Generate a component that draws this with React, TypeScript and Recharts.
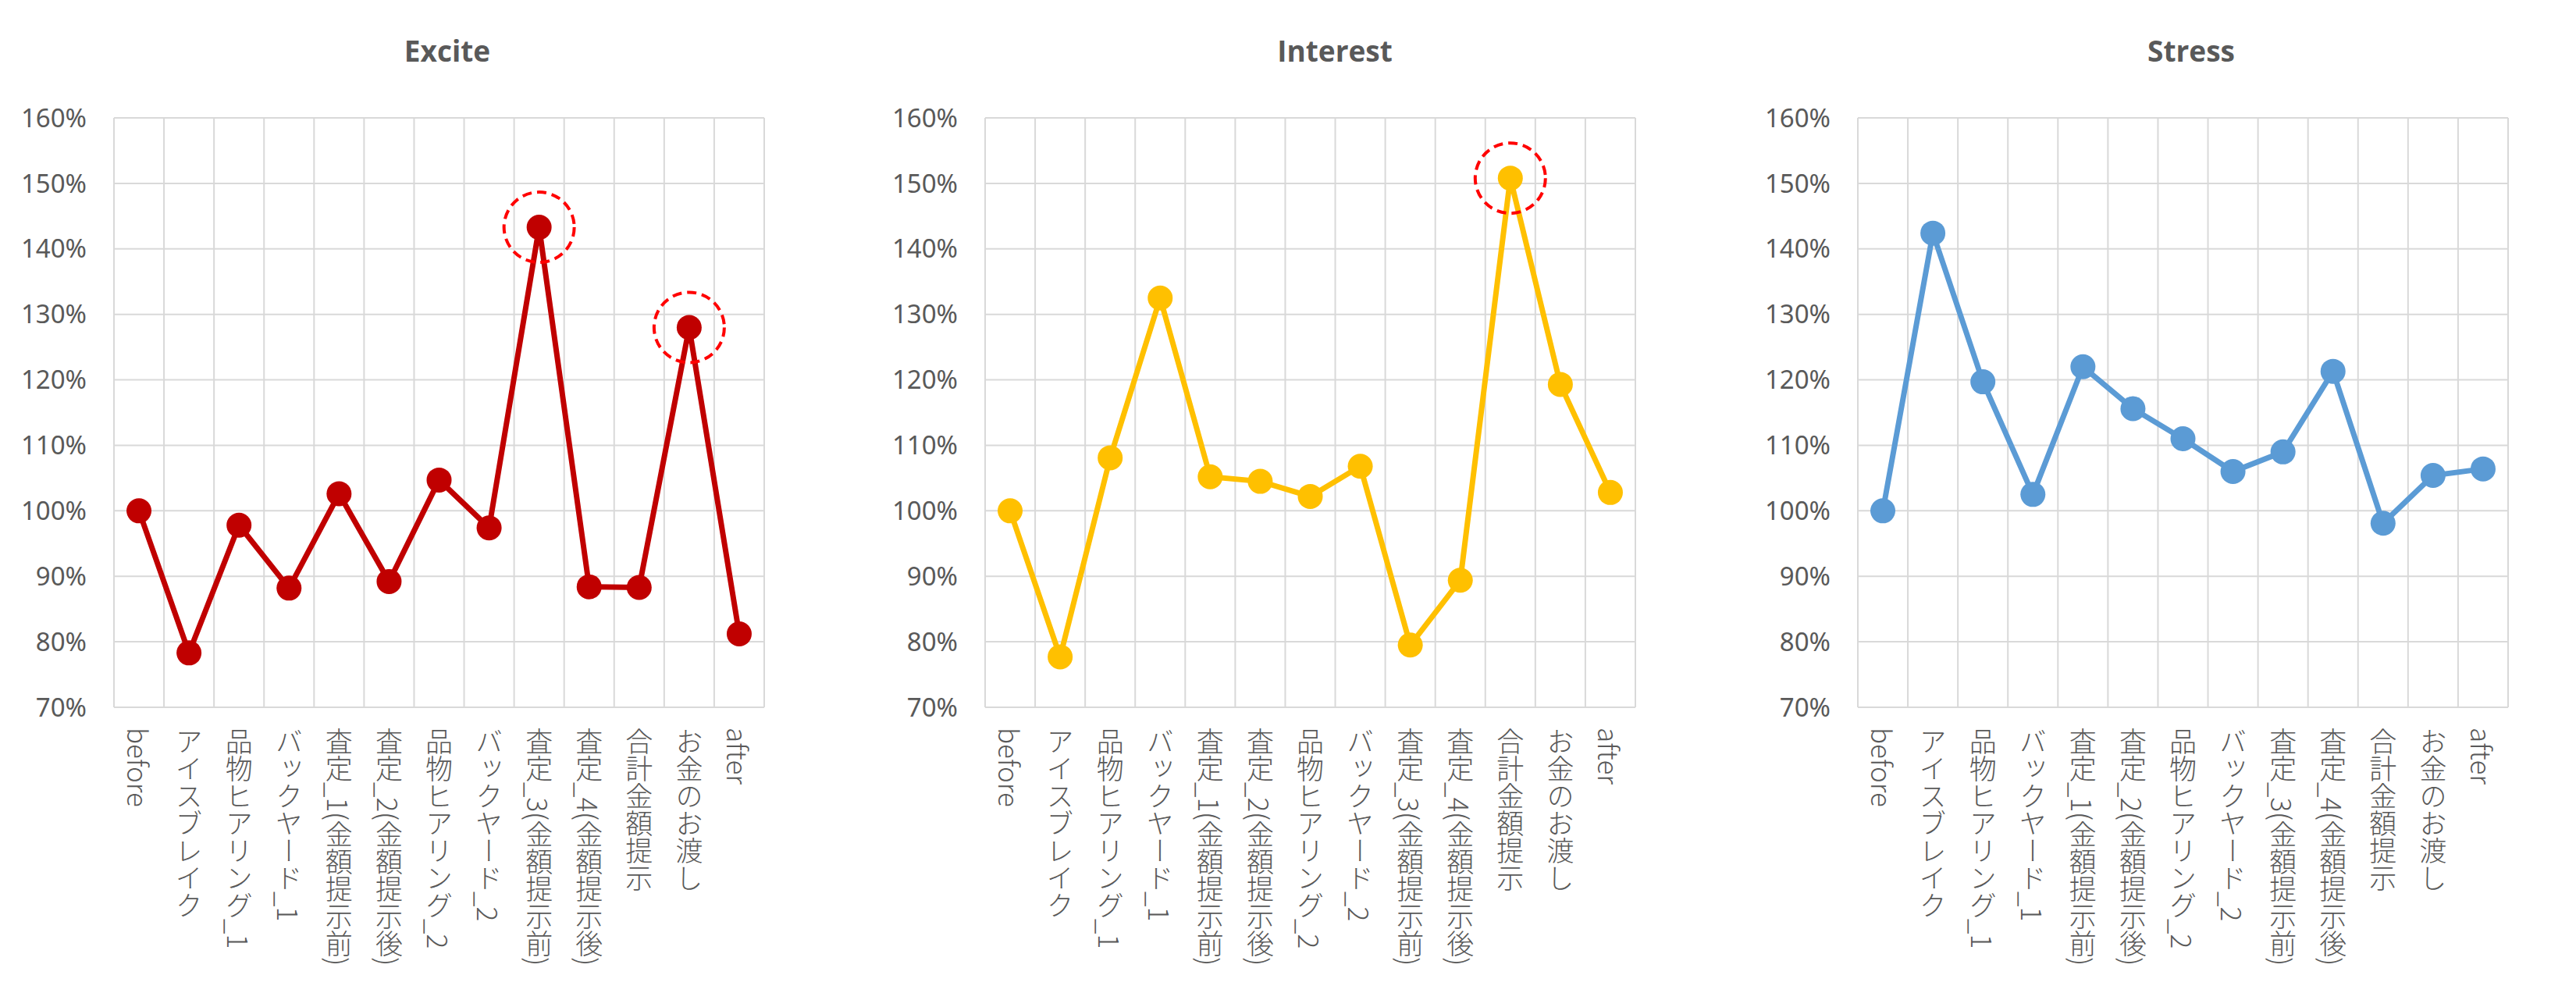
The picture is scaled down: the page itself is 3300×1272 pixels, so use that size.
import { LineChart, Line, XAxis, YAxis, CartesianGrid, ReferenceDot } from 'recharts'

const stages = [
  'before',
  'アイスブレイク',
  '品物ヒアリング_1',
  'バックヤード_1',
  '査定_1(金額提示前)',
  '査定_2(金額提示後)',
  '品物ヒアリング_2',
  'バックヤード_2',
  '査定_3(金額提示前)',
  '査定_4(金額提示後)',
  '合計金額提示',
  'お金のお渡し',
  'after',
]

const excite = [1.0, 0.783, 0.978, 0.882, 1.026, 0.892, 1.047, 0.974, 1.433, 0.884, 0.883, 1.28, 0.812]
const interest = [1.0, 0.777, 1.081, 1.325, 1.052, 1.045, 1.022, 1.068, 0.795, 0.894, 1.508, 1.193, 1.028]
const stress = [1.0, 1.424, 1.197, 1.025, 1.22, 1.156, 1.11, 1.06, 1.09, 1.213, 0.981, 1.054, 1.064]

const yTicks = [0.7, 0.8, 0.9, 1.0, 1.1, 1.2, 1.3, 1.4, 1.5, 1.6]

const exciteMarked = ['査定_3(金額提示前)', 'お金のお渡し']
const interestMarked = ['合計金額提示']
const stressMarked: string[] = []

const TEXT = '#595959'
const GRID = '#d9d9d9'
const JP_FONT = '"Noto Sans CJK JP", "Noto Sans", sans-serif'

const CHART_W = 1066
const CHART_H = 1272
const AXIS_W = 146
const PLOT_W = 833
const TOP = 151
const XAXIS_H = 366

function StageTick(props: any) {
  const { x, y, payload } = props
  return (
    <text
      x={x}
      y={y}
      fill={TEXT}
      fontSize={35}
      fontWeight={300}
      fontFamily={JP_FONT}
      textAnchor="start"
      style={{ writingMode: 'vertical-rl' }}
    >
      {payload.value}
    </text>
  )
}

type PanelProps = {
  title: string
  values: number[]
  color: string
  marked: string[]
  left: number
  titleX: number
}

function Panel({ title, values, color, marked, left, titleX }: PanelProps) {
  const data = stages.map((stage, i) => ({ stage, value: values[i] }))
  const n = stages.length
  return (
    <>
      <div
        style={{
          position: 'absolute',
          left: titleX - 200,
          width: 400,
          top: 40,
          textAlign: 'center',
          fontFamily: '"Open Sans", sans-serif',
          fontWeight: 700,
          fontSize: 37,
          lineHeight: '50px',
          color: TEXT,
        }}
      >
        {title}
      </div>
      <div style={{ position: 'absolute', left, top: 0 }}>
        <LineChart
          width={CHART_W}
          height={CHART_H}
          data={data}
          margin={{ top: TOP, right: CHART_W - AXIS_W - PLOT_W, bottom: 0, left: 0 }}
        >
          <CartesianGrid
            stroke={GRID}
            strokeWidth={2}
            verticalCoordinatesGenerator={({ offset }: any) =>
              Array.from({ length: n + 1 }, (_, i) => offset.left + (i * offset.width) / n)
            }
          />
          <XAxis
            dataKey="stage"
            interval={0}
            padding={{ left: PLOT_W / (2 * n), right: PLOT_W / (2 * n) }}
            tickLine={false}
            axisLine={false}
            tickSize={0}
            tickMargin={26}
            height={XAXIS_H}
            tick={<StageTick />}
          />
          <YAxis
            domain={[0.7, 1.6]}
            ticks={yTicks}
            allowDataOverflow
            width={AXIS_W}
            tickLine={false}
            axisLine={false}
            tickSize={0}
            tickMargin={35}
            tickFormatter={(v: number) => `${Math.round(v * 100)}%`}
            tick={{ fill: TEXT, fontSize: 33, fontFamily: '"Noto Sans", sans-serif' }}
          />
          <Line
            type="linear"
            dataKey="value"
            stroke={color}
            strokeWidth={7}
            dot={{ r: 16, fill: color, stroke: color, strokeWidth: 0 }}
            activeDot={false}
            isAnimationActive={false}
          />
          {marked.map((stage) => (
            <ReferenceDot
              key={stage}
              x={stage}
              y={values[stages.indexOf(stage)]}
              r={45}
              fill="none"
              stroke="#ff0000"
              strokeWidth={4}
              strokeDasharray="12 7"
            />
          ))}
        </LineChart>
      </div>
    </>
  )
}

export default function App() {
  return (
    <div
      style={{
        position: 'absolute',
        left: 0,
        top: 0,
        width: 3300,
        height: 1272,
        background: '#ffffff',
        overflow: 'hidden',
      }}
    >
      <Panel title="Excite" values={excite} color="#c00000" marked={exciteMarked} left={0} titleX={573} />
      <Panel title="Interest" values={interest} color="#ffc000" marked={interestMarked} left={1116} titleX={1710} />
      <Panel title="Stress" values={stress} color="#5b9bd5" marked={stressMarked} left={2234} titleX={2807} />
    </div>
  )
}
